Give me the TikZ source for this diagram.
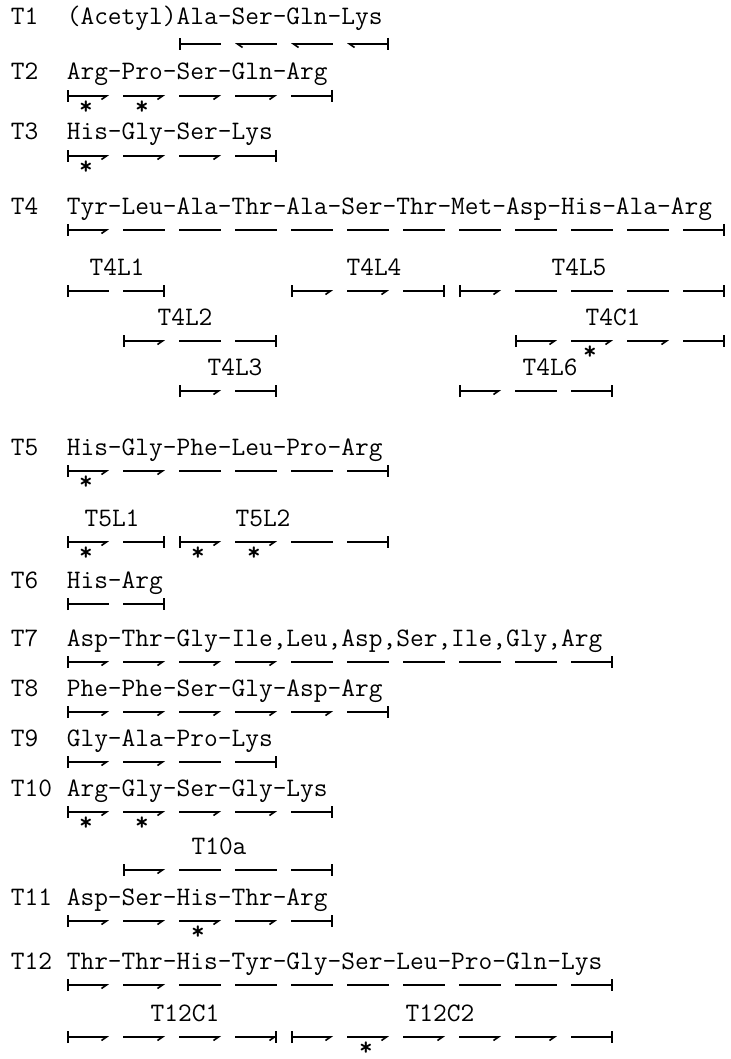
\documentclass[tikz,border=0pt]{standalone}
\usepackage{fontspec}
\usetikzlibrary{arrows.meta}
\newcommand\typewr{\ttfamily\fontsize{13.33}{16}\selectfont}
% #1 = x of first residue, #2 = y of the line, #3 = residue/kind list
\newcommand\segs[3]{%
  \foreach \i/\typ in {#3} {\draw[\typ] (#1+56*\i+1,#2) -- (#1+56*\i+43,#2);}}
% #1 = x of first residue, #2 = y of the line above, #3 = residues
\newcommand\stars[3]{%
  \foreach \i in {#3} {\node[starmk] (st-#2-\i) at (#1+56*\i+20,#2+4) {*};}}

\begin{document}
\begin{tikzpicture}[
    x = 0.5pt, y = -0.5pt, line width = 0.8pt,
    tname/.style = {anchor = base west, inner sep = 0pt, font = \typewr},
    tsub/.style = {anchor = base, inner sep = 0pt, font = \typewr},
    starmk/.style = {anchor = north, inner sep = 0pt,
      font = \ttfamily\bfseries\fontsize{13}{14}\selectfont},
    % segment kinds
    fst/.style = {{Bar[width = 6pt]}-{Straight Barb[harpoon, swap, length = 2.5pt, width = 3.5pt]}},
    fpl/.style = {{Bar[width = 6pt]}-},
    edm/.style = {-{Straight Barb[harpoon, swap, length = 2.5pt, width = 3.5pt]}},
    pln/.style = {-},
    lst/.style = {-{Bar[width = 6pt]}},
    cpl/.style = {{Straight Barb[harpoon, length = 2.5pt, width = 3.5pt]}-},
    cpb/.style = {{Straight Barb[harpoon, length = 2.5pt, width = 3.5pt]}-{Bar[width = 6pt]}},
    ]
\useasboundingbox (0,0) rectangle (731,1059);

% T1
\node [tname] (n1) at (10,25) {T1};
\node [tname] (p1) at (66,25) {(Acetyl)Ala-Ser-Gln-Lys};
\segs{178}{44}{0/fpl,1/cpl,2/cpl,3/cpb}

% T2
\node [tname] (n2) at (10,80) {T2};
\node [tname] (p2) at (66,80) {Arg-Pro-Ser-Gln-Arg};
\segs{66}{96}{0/fst,1/edm,2/edm,3/edm,4/lst}
\stars{66}{96}{0,1}

% T3
\node [tname] (n3) at (10,140) {T3};
\node [tname] (p3) at (66,140) {His-Gly-Ser-Lys};
\segs{66}{156}{0/fst,1/edm,2/edm,3/lst}
\stars{66}{156}{0}

% T4 and its pieces
\node [tname] (n4) at (10,214) {T4};
\node [tname] (p4) at (66,214) {Tyr-Leu-Ala-Thr-Ala-Ser-Thr-Met-Asp-His-Ala-Arg};
\segs{66}{230}{0/fst,1/pln,2/pln,3/pln,4/pln,5/pln,6/pln,7/pln,8/pln,9/pln,10/pln,11/lst}

\node [tsub] (t4l1) at (117,275) {T4L1};
\segs{66}{291}{0/fpl,1/lst}
\node [tsub] (t4l4) at (374,275) {T4L4};
\segs{66}{291}{4/fst,5/edm,6/lst}
\node [tsub] (t4l5) at (579,275) {T4L5};
\segs{66}{291}{7/fst,8/pln,9/pln,10/pln,11/lst}

\node [tsub] (t4l2) at (185,325) {T4L2};
\segs{66}{341}{1/fst,2/pln,3/lst}
\node [tsub] (t4c1) at (613,325) {T4C1};
\segs{66}{341}{8/fst,9/edm,10/edm,11/lst}
\stars{66}{341}{9}

\node [tsub] (t4l3) at (235,375) {T4L3};
\segs{66}{391}{2/fst,3/lst}
\node [tsub] (t4l6) at (550,375) {T4L6};
\segs{66}{391}{7/fst,8/pln,9/lst}

% T5 and its pieces
\node [tname] (n5) at (10,455) {T5};
\node [tname] (p5) at (66,455) {His-Gly-Phe-Leu-Pro-Arg};
\segs{66}{471}{0/fst,1/edm,2/pln,3/pln,4/pln,5/lst}
\stars{66}{471}{0}

\node [tsub] (t5l1) at (112,526) {T5L1};
\segs{66}{542}{0/fst,1/lst}
\node [tsub] (t5l2) at (263,526) {T5L2};
\segs{66}{542}{2/fst,3/edm,4/pln,5/lst}
\stars{66}{542}{0,2,3}

% T6 to T9
\node [tname] (n6) at (10,588) {T6};
\node [tname] (p6) at (66,588) {His-Arg};
\segs{66}{604}{0/fpl,1/lst}

\node [tname] (n7) at (10,646) {T7};
\node [tname] (p7) at (66,646) {Asp-Thr-Gly-Ile,Leu,Asp,Ser,Ile,Gly,Arg};
\segs{66}{662}{0/fst,1/edm,2/edm,3/edm,4/pln,5/pln,6/pln,7/pln,8/pln,9/lst}

\node [tname] (n8) at (10,696) {T8};
\node [tname] (p8) at (66,696) {Phe-Phe-Ser-Gly-Asp-Arg};
\segs{66}{712}{0/fst,1/edm,2/edm,3/edm,4/edm,5/lst}

\node [tname] (n9) at (10,746) {T9};
\node [tname] (p9) at (66,746) {Gly-Ala-Pro-Lys};
\segs{66}{762}{0/fst,1/edm,2/pln,3/lst}

% T10
\node [tname] (n10) at (10,796) {T10};
\node [tname] (p10) at (66,796) {Arg-Gly-Ser-Gly-Lys};
\segs{66}{812}{0/fst,1/edm,2/edm,3/edm,4/lst}
\stars{66}{812}{0,1}

\node [tsub] (t10a) at (219,854) {T10a};
\segs{66}{870}{1/fst,2/pln,3/pln,4/lst}

% T11
\node [tname] (n11) at (10,905) {T11};
\node [tname] (p11) at (66,905) {Asp-Ser-His-Thr-Arg};
\segs{66}{921}{0/fst,1/edm,2/edm,3/edm,4/lst}
\stars{66}{921}{2}

% T12 and its pieces
\node [tname] (n12) at (10,969) {T12};
\node [tname] (p12) at (66,969) {Thr-Thr-His-Tyr-Gly-Ser-Leu-Pro-Gln-Lys};
\segs{66}{985}{0/fst,1/edm,2/pln,3/pln,4/pln,5/pln,6/pln,7/pln,8/pln,9/lst}

\node [tsub] (t12c1) at (185,1021) {T12C1};
\segs{66}{1037}{0/fst,1/edm,2/edm,3/edm,3/lst}
\node [tsub] (t12c2) at (440,1021) {T12C2};
\segs{66}{1037}{4/fst,5/edm,6/edm,7/edm,8/edm,9/lst}
\stars{66}{1037}{5}
\end{tikzpicture}
\end{document}
